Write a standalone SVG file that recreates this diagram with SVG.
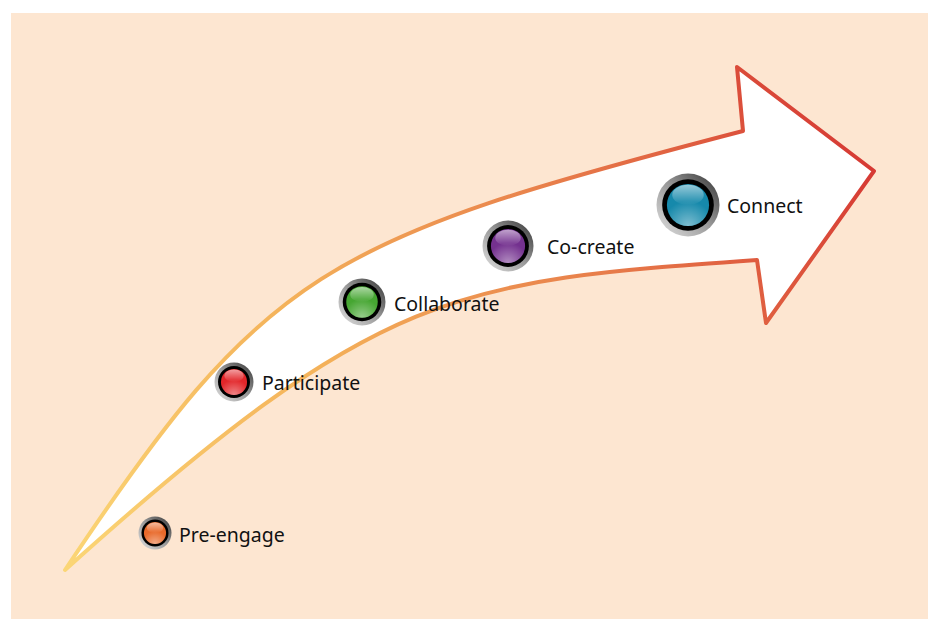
<svg xmlns="http://www.w3.org/2000/svg" xmlns:xlink="http://www.w3.org/1999/xlink" width="928" height="619" viewBox="0 0 928 619">
  <defs>
    <style>
      .lbl { font-family: "Noto Sans", "Open Sans", "Liberation Sans", sans-serif; font-size: 19.5px; fill: #111111; }
    </style>
    <linearGradient id="arrowStroke" gradientUnits="userSpaceOnUse" x1="65" y1="570" x2="874" y2="171">
      <stop offset="0" stop-color="#fbd676"/>
      <stop offset="0.35" stop-color="#f4b25a"/>
      <stop offset="0.65" stop-color="#e9834c"/>
      <stop offset="1" stop-color="#d63a34"/>
    </linearGradient>
    <linearGradient id="ringGrad" x1="0" y1="1" x2="1" y2="0">
      <stop offset="0" stop-color="#e2e2e2"/>
      <stop offset="0.5" stop-color="#9a9a9a"/>
      <stop offset="1" stop-color="#333333"/>
    </linearGradient>
    <linearGradient id="gloss" x1="0" y1="0" x2="0" y2="1">
      <stop offset="0" stop-color="#ffffff" stop-opacity="0.55"/>
      <stop offset="1" stop-color="#ffffff" stop-opacity="0"/>
    </linearGradient>
    <radialGradient id="glow" cx="0.5" cy="1" r="0.6">
      <stop offset="0" stop-color="#ffffff" stop-opacity="0.45"/>
      <stop offset="1" stop-color="#ffffff" stop-opacity="0"/>
    </radialGradient>
    <g id="ring">
      <circle r="10" fill="url(#ringGrad)"/>
      <circle r="8.2" fill="#000000"/>
    </g>
    <g id="shine">
      <circle r="6.7" fill="url(#glow)"/>
      <ellipse cx="0" cy="-3.2" rx="5" ry="3.2" fill="url(#gloss)"/>
    </g>
  </defs>

  <rect x="11" y="13" width="917" height="606" fill="#fde6d1"/>

  <g id="connectors">
    <path id="arrow" fill="#ffffff" stroke="url(#arrowStroke)" stroke-width="4" stroke-linejoin="round"
      d="M65,570 C265,270 323,240 743,131 L737,67 L874,171 L766,323 L757,260 C455.4,281.2 380,286.5 65,570 Z"/>
  </g>

  <g id="pre-engage">
    <g transform="translate(155,533) scale(1.65)">
      <use xlink:href="#ring"/>
      <circle r="6.7" fill="#e8692a"/>
      <use xlink:href="#shine"/>
    </g>
    <text class="lbl" x="179" y="542">Pre-engage</text>
  </g>

  <g id="participate">
    <g transform="translate(234,382) scale(1.95)">
      <use xlink:href="#ring"/>
      <circle r="6.7" fill="#e2262a"/>
      <use xlink:href="#shine"/>
    </g>
    <text class="lbl" x="262" y="390">Participate</text>
  </g>

  <g id="collaborate">
    <g transform="translate(362,302) scale(2.35)">
      <use xlink:href="#ring"/>
      <circle r="6.7" fill="#46a632"/>
      <use xlink:href="#shine"/>
    </g>
    <text class="lbl" x="394" y="311">Collaborate</text>
  </g>

  <g id="co-create">
    <g transform="translate(508,246) scale(2.55)">
      <use xlink:href="#ring"/>
      <circle r="6.7" fill="#74318f"/>
      <use xlink:href="#shine"/>
    </g>
    <text class="lbl" x="547" y="254">Co-create</text>
  </g>

  <g id="connect">
    <g transform="translate(688,205) scale(3.15)">
      <use xlink:href="#ring"/>
      <circle r="6.7" fill="#1689ab"/>
      <use xlink:href="#shine"/>
    </g>
    <text class="lbl" x="727" y="213">Connect</text>
  </g>
</svg>
